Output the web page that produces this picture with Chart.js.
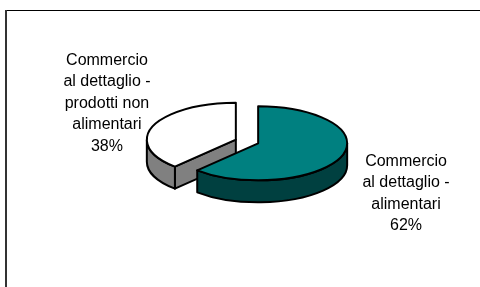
<!DOCTYPE html>
<html><head><meta charset="utf-8">
<script src="https://cdn.jsdelivr.net/npm/chart.js@4/dist/chart.umd.min.js"></script>
<style>html,body{margin:0;padding:0;background:#fff;}canvas{display:block;}</style>
</head><body>
<canvas id="c" width="480" height="287"></canvas>
<script>
const categories = ["Commercio al dettaglio - alimentari", "Commercio al dettaglio - prodotti non alimentari"];
const labelLines = [["Commercio", "al dettaglio -", "alimentari"], ["Commercio", "al dettaglio -", "prodotti non", "alimentari"]];
const values = [62, 38];
const topColors = ["#008080", "#FFFFFF"];
const sideColors = ["#004040", "#808080"];

const pie3d = {
  id: 'pie3d',
  beforeDraw(chart) {
    const ctx = chart.ctx;
    ctx.save();
    ctx.fillStyle = '#fff';
    ctx.fillRect(0, 0, chart.width, chart.height);
    ctx.fillStyle = '#000';
    ctx.fillRect(5, 10, chart.width, 1);
    ctx.fillStyle = '#333';
    ctx.fillRect(5, 10, 2, chart.height);
    ctx.restore();
  },
  beforeDatasetDraw(chart, args, opts) {
    const ctx = chart.ctx;
    const arcs = args.meta.data;
    const tilt = opts.tilt, depth = opts.depth;
    const total = values.reduce((s, v) => s + v, 0);
    const items = arcs.map((arc, i) => {
      const p = arc.getProps(['x', 'y', 'startAngle', 'endAngle', 'outerRadius'], true);
      const mid = (p.startAngle + p.endAngle) / 2;
      const ex = arc.options.offset || 0;
      const rx = p.outerRadius, ry = rx * tilt;
      return {
        i, a: p.startAngle, b: p.endAngle, mid, rx, ry,
        cx: p.x + Math.cos(mid) * ex, cy: p.y + Math.sin(mid) * ex * tilt,
        top: arc.options.backgroundColor, side: opts.sideColors[i]
      };
    });
    items.sort((u, v) => Math.sin(u.mid) - Math.sin(v.mid));
    ctx.save();
    ctx.lineWidth = opts.lineWidth;
    ctx.strokeStyle = '#000';
    ctx.lineJoin = 'round';
    const face = (it, ang) => {
      const ex = it.cx + it.rx * Math.cos(ang), ey = it.cy + it.ry * Math.sin(ang);
      ctx.beginPath();
      ctx.moveTo(it.cx, it.cy);
      ctx.lineTo(ex, ey);
      ctx.lineTo(ex, ey + depth);
      ctx.lineTo(it.cx, it.cy + depth);
      ctx.closePath();
      ctx.fillStyle = it.side;
      ctx.fill(); ctx.stroke();
    };
    for (const it of items) {
      if (Math.cos(it.a) < 0) face(it, it.a);
      if (Math.cos(it.b) > 0) face(it, it.b);
      const s = Math.max(it.a, 0), e = Math.min(it.b, Math.PI);
      if (e > s) {
        ctx.beginPath();
        ctx.ellipse(it.cx, it.cy, it.rx, it.ry, 0, s, e, false);
        ctx.lineTo(it.cx + it.rx * Math.cos(e), it.cy + it.ry * Math.sin(e) + depth);
        ctx.ellipse(it.cx, it.cy + depth, it.rx, it.ry, 0, e, s, true);
        ctx.closePath();
        ctx.fillStyle = it.side;
        ctx.fill(); ctx.stroke();
      }
      ctx.beginPath();
      ctx.moveTo(it.cx, it.cy);
      ctx.ellipse(it.cx, it.cy, it.rx, it.ry, 0, it.a, it.b, false);
      ctx.closePath();
      ctx.fillStyle = it.top;
      ctx.fill(); ctx.stroke();
    }
    // labels
    ctx.font = opts.font;
    ctx.fillStyle = '#000';
    ctx.textAlign = 'center';
    ctx.textBaseline = 'middle';
    for (const it of items) {
      const lines = labelLines[it.i].concat([Math.round(values[it.i] / total * 100) + '%']);
      const hw = Math.max(...lines.map(l => ctx.measureText(l).width)) / 2;
      const hh = lines.length * opts.lineHeight / 2;
      const c = Math.cos(it.mid), sn = Math.sin(it.mid);
      const ax = it.cx + c * (it.rx + opts.labelGap), ay = it.cy + sn * (it.ry + opts.labelGap);
      const nud = opts.nudge[it.i];
      const lx = ax + c * hw + nud[0];
      const ly = ay + sn * hh + nud[1];
      lines.forEach((l, k) => {
        ctx.fillText(l, lx, ly - hh + opts.lineHeight * (k + 0.5));
      });
    }
    ctx.restore();
    return false;
  }
};

new Chart(document.getElementById('c'), {
  type: 'pie',
  data: {
    labels: categories,
    datasets: [{ data: values, backgroundColor: topColors, offset: 12, borderWidth: 0, radius: 89 }]
  },
  options: {
    responsive: false,
    animation: false,
    devicePixelRatio: 1,
    events: [],
    layout: { padding: { left: 100, right: 86, top: 40, bottom: 44 } },
    plugins: {
      legend: { display: false },
      tooltip: { enabled: false },
      pie3d: {
        tilt: 0.416, depth: 22, lineWidth: 2, sideColors: sideColors,
        font: '16px "Liberation Sans", Arial, sans-serif', lineHeight: 21.5,
        labelGap: 20, nudge: [[6, 13.5], [13, 4.5]]
      }
    }
  },
  plugins: [pie3d]
});
</script>
</body></html>
